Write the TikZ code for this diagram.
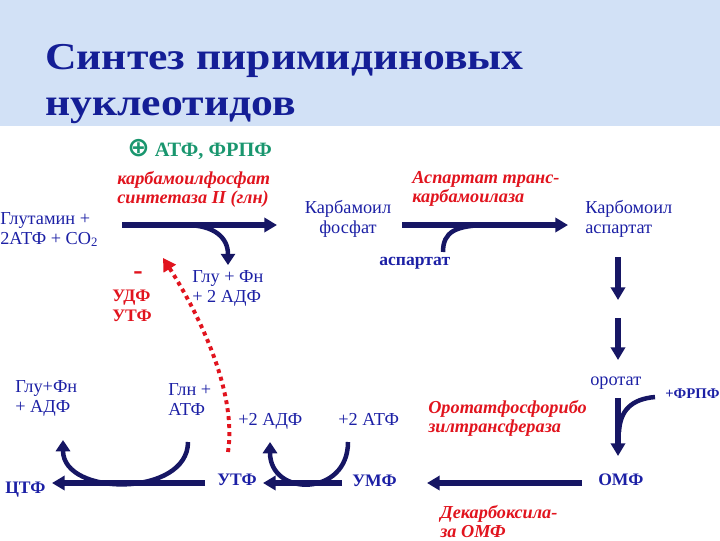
\documentclass[tikz,border=0pt]{standalone}
\usepackage{fontspec}
\setmainfont{Liberation Serif}
\newfontfamily\symfont{DejaVu Sans}
\usetikzlibrary{arrows.meta}
\definecolor{navy}{RGB}{22,22,100}
\definecolor{txtblue}{RGB}{28,32,165}
\definecolor{titleblue}{RGB}{20,30,150}
\definecolor{enzred}{RGB}{225,20,30}
\definecolor{actgreen}{RGB}{25,150,110}
\definecolor{band}{RGB}{210,225,246}
\tikzset{
  txt/.style={inner sep=0pt, anchor=north west, align=left, text=txtblue,
    font=\fontsize{13}{14.2}\selectfont},
  bld/.style={txt, font=\fontsize{12.5}{14.2}\selectfont\bfseries},
  enz/.style={txt, text=enzred, font=\fontsize{13}{13.6}\selectfont\bfseries\itshape},
  main/.style={draw=navy, line width=3.6pt, -{Triangle[length=9pt,width=10pt]}},
  side/.style={draw=navy, line width=3.2pt},
  tip/.style={-{Triangle[length=8pt,width=10pt]}},
  inhib/.style={draw=enzred, line width=2.8pt, dash pattern=on 2.8pt off 2.9pt,
    -{Triangle[length=9pt,width=10pt]}}
}
\begin{document}
\begin{tikzpicture}[x=0.025cm,y=-0.025cm]
\useasboundingbox (0,0) rectangle (720,540);
\fill[band] (0,0) rectangle (720,126);
\node[txt, text=titleblue, xscale=1.15, transform shape,
  font=\fontsize{27}{33}\selectfont\bfseries] (title) at (45,44)
  {Синтез пиримидиновых\\нуклеотидов};
%
\node[bld, text=actgreen, font=\fontsize{14.5}{15}\selectfont\bfseries] (act) at (127,139)
  {{\symfont\fontsize{19}{19}\selectfont ⊕} АТФ, ФРПФ};
\node[enz] (cps) at (117,171) {карбамоилфосфат\\синтетаза II (глн)};
\node[txt] (glut) at (0,212) {Глутамин +\\2АТФ + CO\textsubscript{2}};
\node[txt, align=center, anchor=north] (karbf) at (348,200) {Карбамоил\\фосфат};
\coordinate (cpsA) at (122,225);
\coordinate (cpsB) at (277,225);
\draw[main] (cpsA) -- (cpsB);
%
\coordinate (glnout) at (185,225);
\node[txt] (glufn) at (192,270) {Глу + Фн\\+ 2 АДФ};
\coordinate (glnend) at (228,265);
\draw[side,tip] (glnout) .. controls (215,225) and (228,238) .. (glnend);
%
\node[bld, text=enzred, font=\fontsize{20}{20}\selectfont\bfseries] (minus) at (133,271) {-};
\node[bld, text=enzred] (udf) at (112,290) {УДФ\\УТФ};
%
\node[enz] (atc) at (412,171) {Аспартат транс-\\карбамоилаза};
\node[txt] (karba) at (585,200) {Карбомоил\\аспартат};
\coordinate (atcA) at (402,225);
\coordinate (atcB) at (568,225);
\draw[main] (atcA) -- (atcB);
\node[bld] (asp) at (379,257) {аспартат};
\coordinate (aspin) at (490,225);
\draw[side] (443,252) .. controls (443,232) and (455,225) .. (aspin);
%
\coordinate (v1a) at (618,257);
\coordinate (v1b) at (618,300);
\draw[main] (v1a) -- (v1b);
\coordinate (v2a) at (618,318);
\coordinate (v2b) at (618,360);
\draw[main] (v2a) -- (v2b);
%
\node[txt] (orot) at (590,377) {оротат};
\node[bld, font=\fontsize{10.5}{12}\selectfont\bfseries] (frpf) at (665,389) {+ФРПФ};
\node[bld] (omf) at (598,474) {ОМФ};
\coordinate (orA) at (618,398);
\coordinate (orB) at (618,456);
\draw[main] (orA) -- (orB);
\coordinate (frpfin) at (619,432);
\draw[side] (655,397) .. controls (632,399) and (620,410) .. (frpfin);
\node[enz] (oprt) at (428,400) {Оротатфосфорибо\\зилтрансфераза};
%
\coordinate (omfA) at (582,483);
\coordinate (omfB) at (427,483);
\draw[main] (omfA) -- (omfB);
\node[enz] (odc) at (440,505) {Декарбоксила-\\за ОМФ};
%
\node[bld] (umf) at (352,475) {УМФ};
\node[bld] (utf) at (217,474) {УТФ};
\node[bld] (ctf) at (5,482) {ЦТФ};
\coordinate (umfA) at (342,483);
\coordinate (umfB) at (263,483);
\draw[main] (umfA) -- (umfB);
\coordinate (utfA) at (205,483);
\coordinate (utfB) at (52,483);
\draw[main] (utfA) -- (utfB);
%
\node[txt] (atp2) at (338,413) {+2 АТФ};
\node[txt] (adp2) at (238,413) {+2 АДФ};
\draw[side,tip] (348,442) .. controls (348,497) and (270,497) .. (270,442);
%
\node[txt] (gln) at (168,383) {Глн +\\АТФ};
\node[txt] (glufn2) at (15,380) {Глу+Фн\\+ АДФ};
\draw[side,tip] (188,442) .. controls (188,497) and (63,497) .. (63,440);
%
\coordinate (utfup) at (228,452);
\coordinate (cpsinh) at (163,258);
\draw[inhib] (utfup) .. controls (238,385) and (190,300) .. (cpsinh);
\end{tikzpicture}
\end{document}
